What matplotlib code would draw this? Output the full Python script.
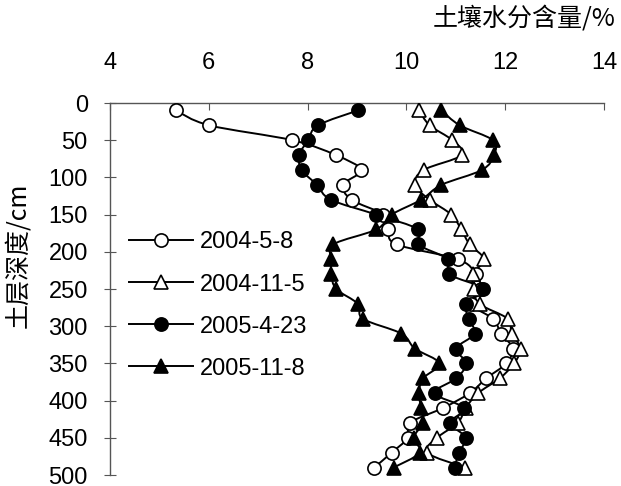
import numpy as np
import matplotlib.pyplot as plt
from matplotlib.path import Path
from matplotlib.patches import PathPatch
from matplotlib.lines import Line2D

# depth of each sample, cm
depth = [10, 30, 50, 70, 90, 110, 130, 150, 170, 190, 210, 230, 250,
         270, 290, 310, 330, 350, 370, 390, 410, 430, 450, 470, 490]

# soil moisture, %
m_2004_5_8 = [5.33, 6.01, 7.69, 8.57, 9.08, 8.72, 8.89, 9.53, 9.63, 9.80,
              11.04, 11.41, 11.50, 11.30, 11.75, 11.92, 12.15, 12.02, 11.62,
              11.28, 10.74, 10.07, 10.03, 9.70, 9.35]
m_2004_11_5 = [10.26, 10.47, 10.93, 11.12, 10.35, 10.17, 10.47, 10.91, 11.11,
               11.28, 11.57, 11.35, 11.36, 11.48, 12.05, 12.13, 12.31, 12.18,
               11.89, 11.45, 11.20, 11.04, 10.62, 10.42, 11.19]
m_2005_4_23 = [9.02, 8.21, 8.01, 7.83, 7.88, 8.19, 8.47, 9.39, 10.24, 10.24,
               10.84, 10.86, 11.55, 11.21, 11.26, 11.38, 11.01, 11.21, 11.01,
               10.57, 11.16, 10.89, 11.20, 11.06, 10.98]
m_2005_11_8 = [10.71, 11.08, 11.75, 11.77, 11.53, 10.71, 10.30, 9.70, 9.39,
               8.52, 8.48, 8.48, 8.58, 9.02, 9.12, 9.90, 10.17, 10.67, 10.34,
               10.25, 10.30, 10.33, 10.15, 10.27, 9.74]

labels = ["2004-5-8", "2004-11-5", "2005-4-23", "2005-11-8"]
xticks = [4, 6, 8, 10, 12, 14]
yticks = [0, 50, 100, 150, 200, 250, 300, 350, 400, 450, 500]


def smooth_path(x, y):
    # Catmull-Rom style bezier through the points (like Excel's smoothed line)
    p = np.column_stack([x, y]).astype(float)
    n = len(p)
    verts = [p[0]]
    codes = [Path.MOVETO]
    for i in range(n - 1):
        p0 = p[i - 1] if i > 0 else p[i]
        p3 = p[i + 2] if i + 2 < n else p[i + 1]
        c1 = p[i] + (p[i + 1] - p0) / 6.0
        c2 = p[i + 1] - (p3 - p[i]) / 6.0
        verts += [c1, c2, p[i + 1]]
        codes += [Path.CURVE4] * 3
    return Path(verts, codes)


plt.rcParams['font.family'] = ['Liberation Sans', 'Noto Sans CJK SC']
fig = plt.figure(figsize=(6.21, 4.86), dpi=100)
W, H = 621, 486
ax = fig.add_axes([110 / W, 1 - 475 / H, (604 - 110) / W, (475 - 103) / H])

series = [m_2004_5_8, m_2004_11_5, m_2005_4_23, m_2005_11_8]
styles = [('o', 'white'), ('^', 'white'), ('o', 'black'), ('^', 'black')]
handles = []
for vals, (mk, fc), lab in zip(series, styles, labels):
    ax.add_patch(PathPatch(smooth_path(vals, depth), fill=False,
                           edgecolor='black', lw=1.4, zorder=2))
    ax.plot(vals, depth, ls='none', marker=mk, ms=9.5, mfc=fc, mec='black',
            mew=1.2, zorder=3)
    handles.append(Line2D([], [], color='black', lw=1.4, marker=mk, ms=9.5,
                          mfc=fc, mec='black', mew=1.2, label=lab))

ax.set_xlim(4, 14)
ax.set_ylim(500, 0)
ax.set_xticks(xticks)
ax.set_yticks(yticks)
ax.xaxis.tick_top()
for s in ['right', 'bottom']:
    ax.spines[s].set_visible(False)
for s in ['top', 'left']:
    ax.spines[s].set_color('#555555')
    ax.spines[s].set_linewidth(1.0)
ax.tick_params(axis='x', direction='in', length=5, pad=21, labelsize=17,
               color='#555555')
ax.tick_params(axis='y', direction='inout', length=8, pad=12, labelsize=17,
               color='#555555')
for t in ax.get_yticklabels():
    t.set_va('center_baseline')

leg = ax.legend(handles=handles, loc='upper left', frameon=False,
                fontsize=17, handlelength=2.7, handletextpad=0.3,
                labelspacing=0.85, bbox_to_anchor=(120 / W, 1 - 222 / H),
                bbox_transform=fig.transFigure, borderaxespad=0)

fig.text(616 / W, 1 - 19 / H, "土壤水分含量/%", ha='right', va='center',
         fontsize=18, family=['Noto Sans CJK SC', 'Liberation Sans'],
         fontweight='light')
fig.text(18 / W, 1 - 255 / H, "土层深度/cm", ha='center', va='center',
         rotation=90, fontsize=18,
         family=['Noto Sans CJK SC', 'Liberation Sans'], fontweight='light')

fig.savefig('out.png', dpi=100)
